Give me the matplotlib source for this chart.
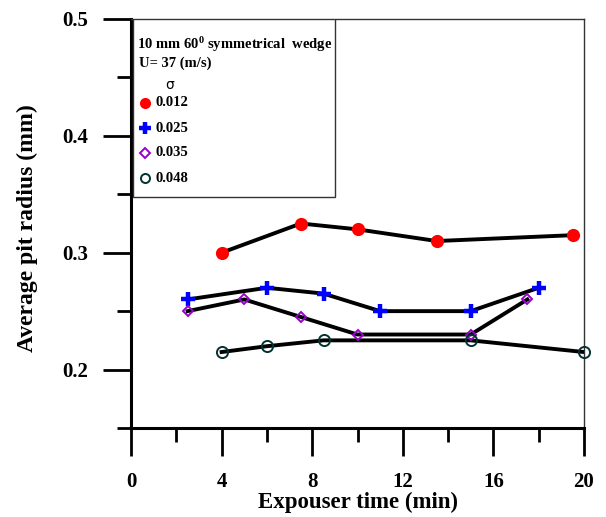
import matplotlib
matplotlib.use("Agg")
import matplotlib.pyplot as plt
from matplotlib.patches import Rectangle

plt.rcParams['font.family'] = ['Liberation Serif', 'DejaVu Serif']
plt.rcParams['font.weight'] = 'bold'
plt.rcParams['mathtext.fontset'] = 'custom'
plt.rcParams['mathtext.rm'] = 'Liberation Serif:bold'
plt.rcParams['mathtext.it'] = 'Liberation Serif:bold'
plt.rcParams['mathtext.bf'] = 'Liberation Serif:bold'

x_012 = [4, 7.5, 10, 13.5, 19.5]
y_012 = [0.300, 0.325, 0.320, 0.310, 0.315]
x_025 = [2.5, 6, 8.5, 11, 15, 18]
y_025 = [0.260, 0.270, 0.265, 0.250, 0.250, 0.270]
x_035 = [2.5, 5, 7.5, 10, 15, 17.5]
y_035 = [0.250, 0.260, 0.245, 0.230, 0.230, 0.260]
x_048 = [4, 6, 8.5, 15, 20]
y_048 = [0.215, 0.220, 0.225, 0.225, 0.215]
labels = ['0.012', '0.025', '0.035', '0.048']
xticks = [0, 4, 8, 12, 16, 20]
yticks = [0.2, 0.3, 0.4, 0.5]

fig = plt.figure(figsize=(6.06, 5.17), dpi=100)
ax = fig.add_axes([131/606, 1-428/517, (584-131)/606, (428-19)/517])

lw = 2.8
styles = [
    dict(marker='o', ms=9.5, mfc='red', mec='red', mew=0),
    dict(marker='+', ms=10, mfc='blue', mec='blue', mew=3.2),
    dict(marker='D', ms=5.5, mfc='none', mec='#9900cc', mew=1.4),
    dict(marker='o', ms=8, mfc='none', mec='#003333', mew=1.4),
]
series = [(x_012, y_012), (x_025, y_025), (x_035, y_035), (x_048, y_048)]
for (xs, ys), st in zip(series, styles):
    ax.plot(xs, ys, color='black', lw=lw, zorder=2)
    ax.plot(xs, ys, ls='none', zorder=3, clip_on=False, **st)

ax.set_xlim(0, 20)
ax.set_ylim(0.15, 0.5)
ax.set_xticks(xticks)
ax.set_xticklabels([str(v) for v in xticks])
ax.set_xticks([2, 6, 10, 14, 18], minor=True)
ax.set_yticks(yticks)
ax.set_yticklabels(['%.1f' % v for v in yticks])
ax.set_yticks([0.15, 0.25, 0.35, 0.45], minor=True)

ax.tick_params(which='major', direction='out', length=20, width=2, labelsize=15)
ax.tick_params(which='minor', direction='out', length=10, width=2)
ax.tick_params(axis='y', which='major', pad=11)
ax.tick_params(axis='x', which='major', pad=11.5)
for lab in ax.get_xticklabels() + ax.get_yticklabels():
    lab.set_fontweight('bold')

ax.spines['left'].set_linewidth(2.2)
ax.spines['bottom'].set_linewidth(2.2)
ax.spines['top'].set_linewidth(1.0)
ax.spines['right'].set_linewidth(1.0)
ax.spines['top'].set_color('#333333')
ax.spines['right'].set_color('#333333')

ax.set_xlabel('Expouser time (min)', fontsize=16.5, fontweight='bold')
ax.xaxis.set_label_coords(0.5, (428 - 492) / 409)
ax.set_ylabel('Average pit radius (mm)', fontsize=17, fontweight='bold')
ax.yaxis.set_label_coords((38 - 131) / 453, (428 - 228) / 409)

# legend box
def px(xp, yp):
    return ((xp - 131) / (584 - 131), (428 - yp) / (428 - 19))

x0, y0 = px(133, 197)
x1, y1 = px(335, 19)
ax.add_patch(Rectangle((x0, y0), x1 - x0, y1 - y0, transform=ax.transAxes,
                       fill=True, fc='white', ec='#333333', lw=1.0, zorder=4))
tx, ty = px(137, 45)
ax.text(tx, ty, r'10 mm 60$^0$ symmetrical  wedge', transform=ax.transAxes,
        fontsize=10.5, fontweight='bold', va='center', ha='left', zorder=5)
tx, ty = px(139, 63)
ax.text(tx, ty, 'U= 37 (m/s)', transform=ax.transAxes,
        fontsize=10.5, fontweight='bold', va='center', ha='left', zorder=5)
tx, ty = px(170, 85)
ax.text(tx, ty, 'σ', transform=ax.transAxes, fontsize=10, fontweight='normal',
        va='center', ha='center', zorder=5, family=['DejaVu Sans'])
ys_leg = [103, 128, 153, 178]
for yl, st, lab in zip(ys_leg, styles, labels):
    mx, my = px(145, yl)
    st2 = dict(st)
    if st2['marker'] == '+':
        st2['ms'] = 8
    elif st2['marker'] == 'o' and st2['mfc'] == 'red':
        st2['ms'] = 8
    elif st2['marker'] == 'o':
        st2['ms'] = 6.5
    else:
        st2['ms'] = 5
    ax.plot([mx], [my], transform=ax.transAxes, ls='none', zorder=6, clip_on=False, **st2)
    tx, ty = px(155, yl)
    ax.text(tx, ty, lab, transform=ax.transAxes, fontsize=10.5, fontweight='bold',
            va='center', ha='left', zorder=6)

fig.savefig('out.png', dpi=100)
